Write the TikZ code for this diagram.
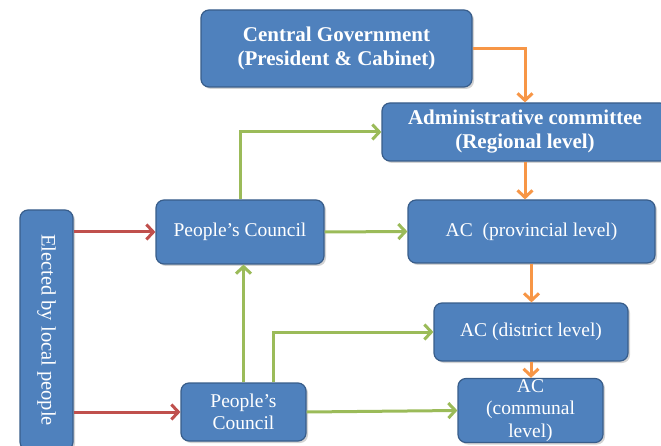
\documentclass[tikz,border=0pt]{standalone}
\usepackage{fontspec}
\setmainfont{Liberation Serif}
\usetikzlibrary{arrows.meta,shadows,calc}
\definecolor{boxfill}{HTML}{4F81BD}
\definecolor{boxline}{HTML}{385D8A}
\definecolor{orangeA}{HTML}{F79646}
\definecolor{greenA}{HTML}{9BBB59}
\definecolor{redA}{HTML}{C0504D}
\tikzset{
  box/.style={draw=boxline, line width=1.2pt, fill=boxfill, rounded corners=8pt,
    text=white, align=center, inner sep=1pt, font=\fontsize{19.5}{22.5}\selectfont,
    drop shadow={shadow xshift=2pt, shadow yshift=-2pt, opacity=0.35}},
  boldbox/.style={box, font=\bfseries\fontsize{21}{24}\selectfont},
  conn/.style={line width=3pt, -{Straight Barb[length=7pt,width=15pt,line width=3pt]}},
  oarrow/.style={conn, draw=orangeA},
  garrow/.style={conn, draw=greenA},
  rarrow/.style={conn, draw=redA}
}
\begin{document}
\begin{tikzpicture}[x=1pt,y=-1pt]
\useasboundingbox (0,0) rectangle (661,446);
\begin{scope}
\clip (0,0) rectangle (661,446);
\node[boldbox, minimum width=271pt, minimum height=77pt] (cg) at (336.5,48.5) {Central Government\\(President \& Cabinet)};
\node[boldbox, minimum width=286pt, minimum height=58pt] (admin) at (525,132) {Administrative committee\\(Regional level)};
\node[box, minimum width=247pt, minimum height=63pt] (prov) at (531.5,231.5) {AC\ \ (provincial level)};
\node[box, minimum width=194pt, minimum height=58pt] (dist) at (531,332) {AC (district level)};
\node[box, minimum width=145pt, minimum height=59pt] (comm) at (530.5,410.5) {AC\\(communal\\level)};
\node[box, minimum width=168pt, minimum height=64pt] (pcu) at (240,232) {People’s Council};
\node[box, minimum width=125pt, minimum height=58pt] (pcl) at (243.5,412) {People’s\\Council};
\node[box, minimum width=53pt, minimum height=240pt] (elec) at (46.5,330) {};
\node[text=white, rotate=-90, font=\fontsize{20.5}{24}\selectfont] (electext) at (elec.center) {Elected by local people};

\draw[oarrow] (cg.east) -| (admin.north);
\draw[oarrow] (admin.south) -- (admin.south |- prov.north);
\draw[oarrow] (prov.south) -- (prov.south |- dist.north);
\draw[oarrow] (dist.south) -- (dist.south |- comm.north);

\draw[garrow] (pcu.north) |- (admin.west);
\draw[garrow] (pcu.east) -- (prov.west);
\draw[garrow] (pcl.north) -- (pcl.north |- pcu.south);
\draw[garrow] ([xshift=30pt]pcl.north) |- (dist.west);
\draw[garrow] (pcl.east) -- (comm.west);

\draw[rarrow] (elec.east |- pcu.west) -- (pcu.west);
\draw[rarrow] (elec.east |- pcl.west) -- (pcl.west);
\end{scope}
\end{tikzpicture}
\end{document}
